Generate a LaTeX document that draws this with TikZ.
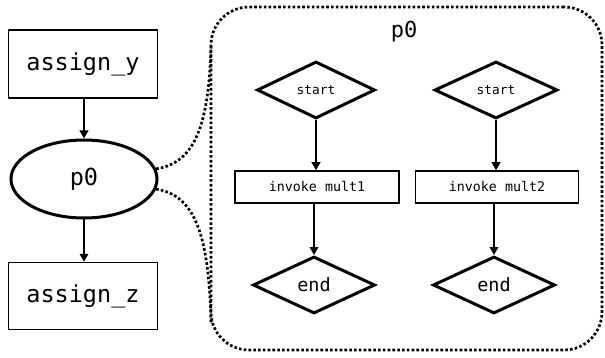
\documentclass[tikz,border=0pt]{standalone}
\usepackage{fontspec}
\setmonofont{DejaVu Sans Mono}
\usetikzlibrary{shapes.geometric,arrows.meta}
\tikzset{
  box/.style={draw, line width=1.5pt, inner sep=0pt, font=\ttfamily},
  decision/.style={draw, shape=diamond, line width=3pt, inner sep=0pt, font=\ttfamily},
  flow/.style={line width=2.5pt, -{Triangle[length=8pt,width=8.5pt]}},
  dots/.style={line width=2.7pt, dash pattern=on 2.6pt off 2.2pt},
}
\begin{document}
\begin{tikzpicture}[x=1pt,y=-1pt]
\useasboundingbox (0,0) rectangle (605,358);

% outer flow
\node[box, minimum width=149pt, minimum height=68pt, font=\ttfamily\fontsize{23.5}{26}\selectfont] (ay) at (83,64) {assign\_y};
\node[draw, shape=ellipse, line width=3pt, inner sep=0pt, minimum width=146pt, minimum height=78pt,
      font=\ttfamily\fontsize{23.5}{26}\selectfont] (p0) at (84,179) {p0};
\node[box, minimum width=149pt, minimum height=67pt, font=\ttfamily\fontsize{23.5}{26}\selectfont] (az) at (83,296) {assign\_z};
\draw[flow] (ay.south -| p0.north) -- (p0.north);
\draw[flow] (p0.south) -- (az.north -| p0.south);

% expanded process
\node[draw, dots, rounded corners=38pt, minimum width=391pt, minimum height=343pt, inner sep=0pt] (sub) at (406.5,178.5) {};
\node[font=\ttfamily\fontsize{22}{24}\selectfont] (title) at (404,32) {p0};

\coordinate (ctop) at (211,45);
\coordinate (cbot) at (211,323);
\draw[dots] (p0.8) .. controls (195,163) and (209,125) .. (ctop);
\draw[dots] (p0.-8) .. controls (195,195) and (209,235) .. (cbot);

% first branch
\node[decision, minimum width=118pt, minimum height=57pt, font=\ttfamily\fontsize{12.8}{14}\selectfont] (s1) at (316,90) {start};
\node[box, minimum width=164pt, minimum height=32pt, font=\ttfamily\fontsize{13.3}{15}\selectfont] (m1) at (317,187) {invoke mult1};
\node[decision, minimum width=122pt, minimum height=57pt, font=\ttfamily\fontsize{18.5}{20}\selectfont] (e1) at (314,285) {end};
\draw[flow] (s1.south) -- (m1.north -| s1.south);
\draw[flow] (m1.south -| e1.north) -- (e1.north);

% second branch
\node[decision, minimum width=123pt, minimum height=57pt, font=\ttfamily\fontsize{12.8}{14}\selectfont] (s2) at (496,90) {start};
\node[box, minimum width=163pt, minimum height=32pt, font=\ttfamily\fontsize{13.3}{15}\selectfont] (m2) at (497,187) {invoke mult2};
\node[decision, minimum width=122pt, minimum height=57pt, font=\ttfamily\fontsize{18.5}{20}\selectfont] (e2) at (494,285) {end};
\draw[flow] (s2.south) -- (m2.north -| s2.south);
\draw[flow] (m2.south -| e2.north) -- (e2.north);
\end{tikzpicture}
\end{document}
